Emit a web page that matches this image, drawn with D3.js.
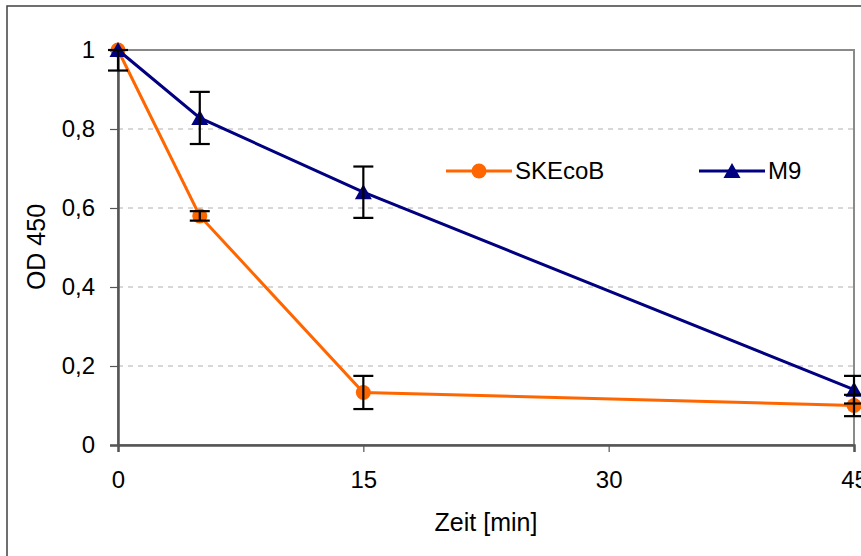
<!DOCTYPE html>
<html>
<head>
<meta charset="utf-8">
<style>
body { margin: 0; background: #fff; }
svg { font-family: "Liberation Sans", Arial, sans-serif; }
</style>
</head>
<body>
<div id="chart"></div>
<script src="https://d3js.org/d3.v7.min.js"></script>
<script>
// data
var times = [0, 5, 15, 45];
var xTicks = [0, 15, 30, 45];
var yTicks = [0, 0.2, 0.4, 0.6, 0.8, 1];
var skecob = [1.0, 0.58, 0.133, 0.1];
var skecobErr = [0, 0.012, 0.042, 0.027];
var m9 = [1.0, 0.828, 0.64, 0.14];
var m9Err = [0.052, 0.066, 0.065, 0.035];
var seriesNames = ["SKEcoB", "M9"];

var width = 861, height = 556;
var plot = {left: 118, right: 854, top: 50, bottom: 445};

var svg = d3.select("#chart").append("svg")
    .attr("width", width)
    .attr("height", height);

// outer chart border (runs off the right / bottom edge)
svg.append("rect")
    .attr("x", 7).attr("y", 6)
    .attr("width", 900).attr("height", 600)
    .attr("fill", "none")
    .attr("stroke", "#404040")
    .attr("stroke-width", 1.5);

var x = d3.scaleLinear().domain([0, 45]).range([plot.left, plot.right]);
var y = d3.scaleLinear().domain([0, 1]).range([plot.bottom, plot.top]);

// gridlines
svg.append("g")
    .selectAll("line")
    .data(yTicks.filter(function(d) { return d > 0 && d < 1; }))
    .enter().append("line")
      .attr("x1", plot.left).attr("x2", plot.right)
      .attr("y1", function(d) { return y(d); })
      .attr("y2", function(d) { return y(d); })
      .attr("stroke", "#b0b0b0")
      .attr("stroke-dasharray", "5,5");

// plot area frame
svg.append("rect")
    .attr("x", plot.left).attr("y", plot.top)
    .attr("width", plot.right - plot.left)
    .attr("height", plot.bottom - plot.top)
    .attr("fill", "none")
    .attr("stroke", "#8a8a8a")
    .attr("stroke-width", 2);

// axes
var yAxis = svg.append("g")
    .attr("transform", "translate(" + plot.left + ",0)")
    .call(d3.axisLeft(y).tickValues(yTicks).tickSize(8).tickPadding(15)
      .tickFormat(function(d) { return String(d).replace(".", ","); }));
var xAxis = svg.append("g")
    .attr("transform", "translate(0," + plot.bottom + ")")
    .call(d3.axisBottom(x).tickValues(xTicks).tickSize(7).tickPadding(19));

[xAxis, yAxis].forEach(function(a) {
  a.select(".domain").attr("stroke", "#555").attr("stroke-width", 2.5);
  a.selectAll(".tick line").attr("stroke", "#555").attr("stroke-width", 1.2);
  a.selectAll("text").attr("fill", "#000").attr("font-size", 24)
    .attr("font-family", "'Liberation Sans', Arial, sans-serif");
});

// axis titles
svg.append("text")
    .attr("x", 486).attr("y", 531)
    .attr("text-anchor", "middle")
    .attr("font-size", 25)
    .text("Zeit [min]");
svg.append("text")
    .attr("transform", "translate(45,247) rotate(-90)")
    .attr("text-anchor", "middle")
    .attr("font-size", 25)
    .text("OD 450");

function triangle(cx, cy) {
  return "M" + cx + "," + (cy - 8) + "L" + (cx + 8.5) + "," + (cy + 7) +
    "L" + (cx - 8.5) + "," + (cy + 7) + "Z";
}

var series = [
  {name: seriesNames[0], values: skecob, err: skecobErr, color: "#ff6600", width: 3, marker: "circle"},
  {name: seriesNames[1], values: m9, err: m9Err, color: "#000080", width: 3, marker: "triangle"}
];

var line = d3.line()
    .x(function(d) { return x(d[0]); })
    .y(function(d) { return y(d[1]); });

series.forEach(function(s) {
  var pts = times.map(function(t, i) { return [t, s.values[i], s.err[i]]; });

  svg.append("path")
      .datum(pts)
      .attr("d", line)
      .attr("fill", "none")
      .attr("stroke", s.color)
      .attr("stroke-width", s.width);

  if (s.marker == "circle") {
    svg.append("g").selectAll("circle")
        .data(pts).enter().append("circle")
        .attr("cx", function(d) { return x(d[0]); })
        .attr("cy", function(d) { return y(d[1]); })
        .attr("r", 7.5)
        .attr("fill", s.color);
  } else {
    svg.append("g").selectAll("path")
        .data(pts).enter().append("path")
        .attr("d", function(d) { return triangle(x(d[0]), y(d[1])); })
        .attr("fill", s.color);
  }
});

// error bars (drawn on top, clipped at axis max)
series.forEach(function(s) {
  var pts = times.map(function(t, i) { return [t, s.values[i], s.err[i]]; })
      .filter(function(d) { return d[2] > 0; });
  var eb = svg.append("g").attr("stroke", "#000").attr("stroke-width", 2.2);
  pts.forEach(function(d) {
    var cx = x(d[0]);
    var hi = y(Math.min(1, d[1] + d[2])), lo = y(d[1] - d[2]);
    eb.append("line").attr("x1", cx).attr("x2", cx).attr("y1", hi).attr("y2", lo);
    [hi, lo].forEach(function(v) {
      eb.append("line").attr("x1", cx - 10).attr("x2", cx + 10).attr("y1", v).attr("y2", v);
    });
  });
});

// legend
var legendX = [446, 699];
var legend = svg.append("g")
    .selectAll("g")
    .data(series)
    .enter().append("g")
      .attr("transform", function(d, i) { return "translate(" + legendX[i] + ",171)"; });

legend.append("line")
    .attr("x1", 0).attr("x2", 66)
    .attr("stroke", function(d) { return d.color; })
    .attr("stroke-width", 3);
legend.each(function(d) {
  var g = d3.select(this);
  if (d.marker == "circle") {
    g.append("circle").attr("cx", 33).attr("cy", 0).attr("r", 7.5).attr("fill", d.color);
  } else {
    g.append("path").attr("d", triangle(33, 0)).attr("fill", d.color);
  }
});
legend.append("text")
    .attr("x", function(d, i) { return i ? 69 : 69; })
    .attr("y", 8)
    .attr("font-size", 24)
    .text(function(d) { return d.name; });
</script>
</body>
</html>
